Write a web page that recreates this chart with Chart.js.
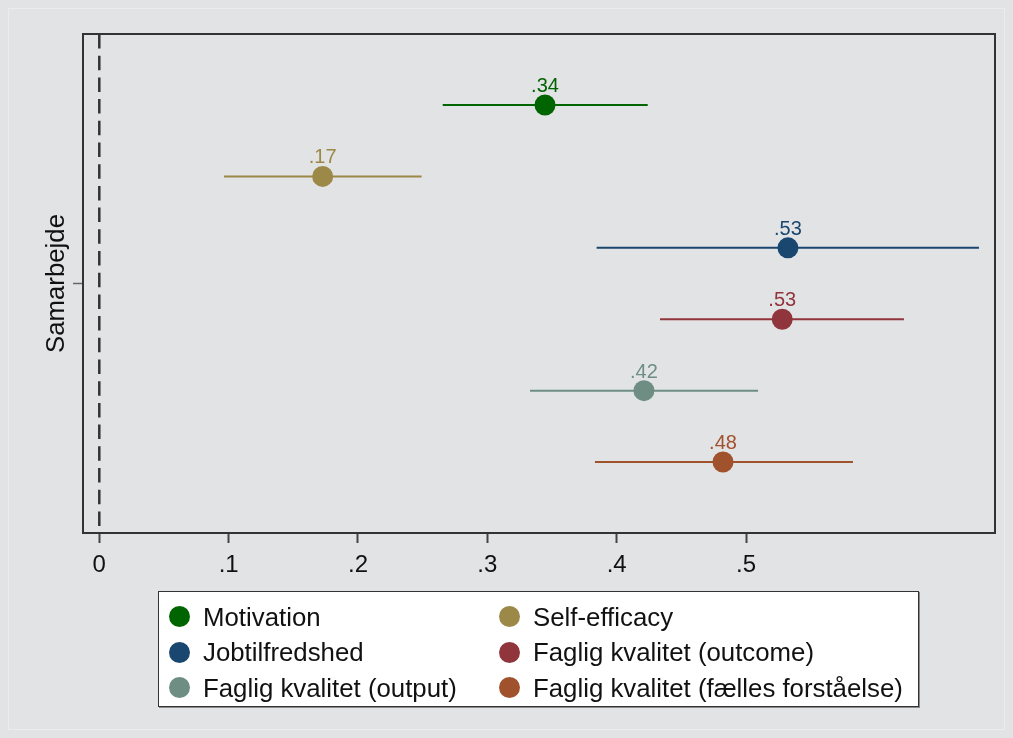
<!DOCTYPE html>
<html>
<head>
<meta charset="utf-8">
<script src="https://cdn.jsdelivr.net/npm/chart.js@4/dist/chart.umd.min.js"></script>
<style>
  html, body { margin: 0; padding: 0; background: #e2e3e5; }
  #wrap { position: relative; width: 1013px; height: 738px; overflow: hidden; background: #e2e3e5; }
  #frame { position: absolute; left: 8px; top: 8px; right: 8px; bottom: 8px; border: 1px solid #ebecee; pointer-events: none; }
  canvas { position: absolute; left: 0; top: 0; }
  #legend { position: absolute; left: 158px; top: 591px; width: 761px; height: 116px; background: #fff;
            border: 1px solid #333; box-shadow: 1px 1px 0 #8a8a8a; box-sizing: border-box;
            font-family: "Liberation Sans", Arial, sans-serif; font-size: 25.8px; color: #111; }
  .lg-dot { position: absolute; width: 21px; height: 21px; border-radius: 50%; }
  .lg-txt { position: absolute; white-space: nowrap; line-height: 30px; }
</style>
</head>
<body>
<div id="wrap">
  <div id="frame"></div>
  <canvas id="c" width="1013" height="738"></canvas>
  <div id="legend"></div>
</div>
<script>
// Coefficient estimates with 95% confidence intervals, one per outcome
const categories = ['Motivation', 'Self-efficacy', 'Jobtilfredshed', 'Faglig kvalitet (outcome)', 'Faglig kvalitet (output)', 'Faglig kvalitet (fælles forståelse)'];
const estimates = [0.3446, 0.1727, 0.5324, 0.5280, 0.4211, 0.4822];
const lowerCI = [0.2655, 0.0964, 0.3845, 0.4335, 0.3330, 0.3832];
const upperCI = [0.4240, 0.2492, 0.6801, 0.6221, 0.5093, 0.5827];
const rowPositions = [1, 2, 3, 4, 5, 6];
const seriesColors = ['#006400', '#9c8847', '#1a476f', '#90353b', '#6e8e84', '#a0522d'];
const xTickValues = [0, 0.1, 0.2, 0.3, 0.4, 0.5];
const xTickLabels = ['0', '.1', '.2', '.3', '.4', '.5'];
const groupLabel = 'Samarbejde';
const groupPosition = 3.5;

const FONT = '"Liberation Sans", Arial, sans-serif';
const X_MIN = -0.0126, X_MAX = 0.6925;
const Y_MIN = 0.005, Y_MAX = 6.994;

function fmtCoef(v) {
  return v.toFixed(2).replace(/^0\./, '.').replace(/^-0\./, '-.');
}

const datasets = categories.map((name, i) => ({
  label: name,
  data: [
    { x: lowerCI[i], y: rowPositions[i] },
    { x: estimates[i], y: rowPositions[i] },
    { x: upperCI[i], y: rowPositions[i] }
  ],
  borderColor: seriesColors[i],
  borderWidth: 2,
  pointRadius: [0, 10.5, 0],
  pointHoverRadius: [0, 10.5, 0],
  pointBackgroundColor: seriesColors[i],
  pointBorderWidth: 0,
  showLine: true,
  fill: false,
  isCoef: true
}));

// reference line at zero
datasets.push({
  label: 'zero',
  data: [{ x: 0, y: Y_MIN }, { x: 0, y: Y_MAX }],
  borderColor: '#333',
  borderWidth: 2.5,
  borderDash: [14.5, 7.2],
  pointRadius: 0,
  showLine: true,
  fill: false,
  isCoef: false
});

// frame around the plot region
const framePlugin = {
  id: 'frame',
  afterDraw(chart) {
    const { ctx, chartArea: a } = chart;
    ctx.save();
    ctx.strokeStyle = '#333';
    ctx.lineWidth = 2;
    ctx.strokeRect(a.left, a.top, a.right - a.left, a.bottom - a.top);
    ctx.restore();
  }
};

// value labels above each point estimate
const valueLabels = {
  id: 'valueLabels',
  afterDatasetsDraw(chart) {
    const { ctx } = chart;
    ctx.save();
    ctx.font = '20px ' + FONT;
    ctx.textAlign = 'center';
    ctx.textBaseline = 'alphabetic';
    chart.data.datasets.forEach((ds, i) => {
      if (!ds.isCoef) return;
      const pt = chart.getDatasetMeta(i).data[1];
      ctx.fillStyle = seriesColors[i];
      ctx.fillText(fmtCoef(estimates[i]), pt.x, pt.y - 13);
    });
    ctx.restore();
  }
};

new Chart(document.getElementById('c'), {
  type: 'line',
  data: { datasets },
  options: {
    responsive: false,
    animation: false,
    devicePixelRatio: 1,
    layout: { padding: { left: 36, top: 34, right: 18, bottom: 0 } },
    plugins: { legend: { display: false }, tooltip: { enabled: false } },
    scales: {
      x: {
        type: 'linear',
        min: X_MIN,
        max: X_MAX,
        afterBuildTicks: s => { s.ticks = xTickValues.map(v => ({ value: v })); },
        afterFit: s => { s.height = 738 - 533; },
        ticks: {
          callback: v => xTickLabels[xTickValues.findIndex(t => Math.abs(t - v) < 1e-9)],
          font: { family: FONT, size: 24 },
          color: '#111',
          padding: 8,
          maxRotation: 0,
          autoSkip: false
        },
        grid: { drawOnChartArea: false, drawTicks: true, tickLength: 10, tickColor: '#444', tickWidth: 2 },
        border: { display: false }
      },
      y: {
        type: 'linear',
        reverse: true,
        min: Y_MIN,
        max: Y_MAX,
        afterBuildTicks: s => { s.ticks = [{ value: groupPosition }]; },
        afterFit: s => { s.width = 83 - 36; },
        ticks: { display: false },
        grid: { drawOnChartArea: false, drawTicks: true, tickLength: 10, tickColor: '#666', tickWidth: 1.5 },
        border: { display: false },
        title: {
          display: true,
          text: groupLabel,
          font: { family: FONT, size: 25.8 },
          color: '#111',
          padding: { top: 5, bottom: 0 }
        }
      }
    }
  },
  plugins: [framePlugin, valueLabels]
});

// legend: two columns, three rows
const legend = document.getElementById('legend');
categories.forEach((name, i) => {
  const row = Math.floor(i / 2), col = i % 2;
  const cy = 24.5 + row * 35.5;
  const dot = document.createElement('div');
  dot.className = 'lg-dot';
  dot.style.background = seriesColors[i];
  dot.style.left = (col === 0 ? 9.5 : 339.5) + 'px';
  dot.style.top = (cy - 10.5) + 'px';
  legend.appendChild(dot);
  const txt = document.createElement('div');
  txt.className = 'lg-txt';
  txt.textContent = name;
  txt.style.left = (col === 0 ? 44 : 374) + 'px';
  txt.style.top = (cy - 15) + 'px';
  legend.appendChild(txt);
});
</script>
</body>
</html>
